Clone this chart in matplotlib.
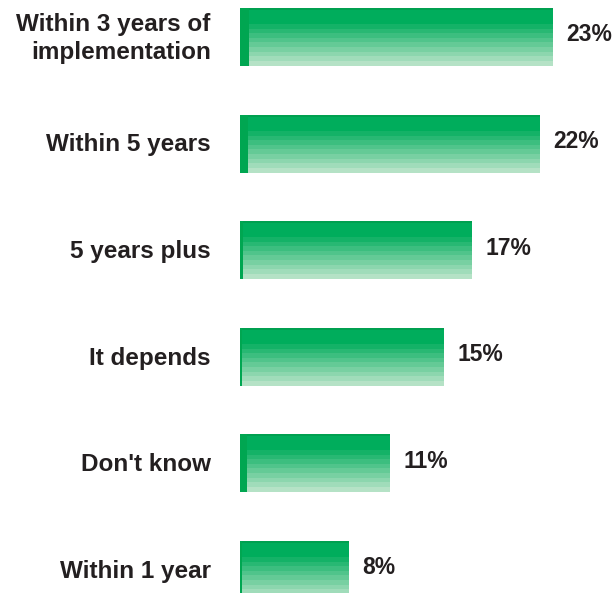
import numpy as np
import matplotlib.pyplot as plt
from matplotlib.colors import to_rgb

categories = ["Within 3 years of\nimplementation", "Within 5 years", "5 years plus",
              "It depends", "Don't know", "Within 1 year"]
values = [23, 22, 17, 15, 11, 8]
value_labels = ["23%", "22%", "17%", "15%", "11%", "8%"]

# width of the solid green edge on each bar, in pixels
edge_px = [9, 8, 3, 2, 7, 2]

TEXT = "#231f20"
EDGE = "#00a651"

plt.rcParams['font.family'] = ['Liberation Sans', 'DejaVu Sans']

fig = plt.figure(figsize=(6.16, 5.93), dpi=100)
ax = fig.add_axes([240 / 616, 0, 376 / 616, 1])

px_per_unit = 13.6
ax.axis('off')

# banded vertical gradient: dark rim on top, fading to pale green
n_rows = 58
top = np.array(to_rgb("#00ad5c"))
bottom = np.array(to_rgb("#b5e2c6"))
rows = []
for r in range(n_rows):
    if r < 2:
        rows.append(to_rgb("#00a050"))
        continue
    t = max(0.0, (r - 11) / (n_rows - 12))
    t = min(np.floor(t * 10) / 9.0, 1.0)
    rows.append(tuple(top + (bottom - top) * t))
grad = np.array(rows)[:, None, :]

ypos = np.arange(len(values))
h = 58 / 106.6
bars = ax.barh(ypos, values, height=h, color='none', edgecolor='none')

for bar, y, v, e in zip(bars, ypos, values, edge_px):
    im = ax.imshow(grad, extent=(0, v, y + h / 2, y - h / 2), aspect='auto',
                   interpolation='nearest', zorder=1)
    im.set_clip_path(bar)
    ax.barh(y, e / px_per_unit, height=h, color=EDGE, zorder=2)

for y, v, lab in zip(ypos, values, value_labels):
    ax.annotate(lab, xy=(v, y), xytext=(10, 1.5), textcoords='offset points',
                ha='left', va='center', fontsize=16.5, fontweight='bold', color=TEXT)

for y, cat in zip(ypos, categories):
    ax.annotate(cat, xy=(0, y), xytext=(-21, -1), textcoords='offset points',
                ha='right', va='center', fontsize=17.5, fontweight='bold',
                color=TEXT, linespacing=1.3, annotation_clip=False)

ax.set_xlim(0, 376 / px_per_unit)
ax.set_ylim(5.216, -0.347)

fig.savefig("out.png", dpi=100)
